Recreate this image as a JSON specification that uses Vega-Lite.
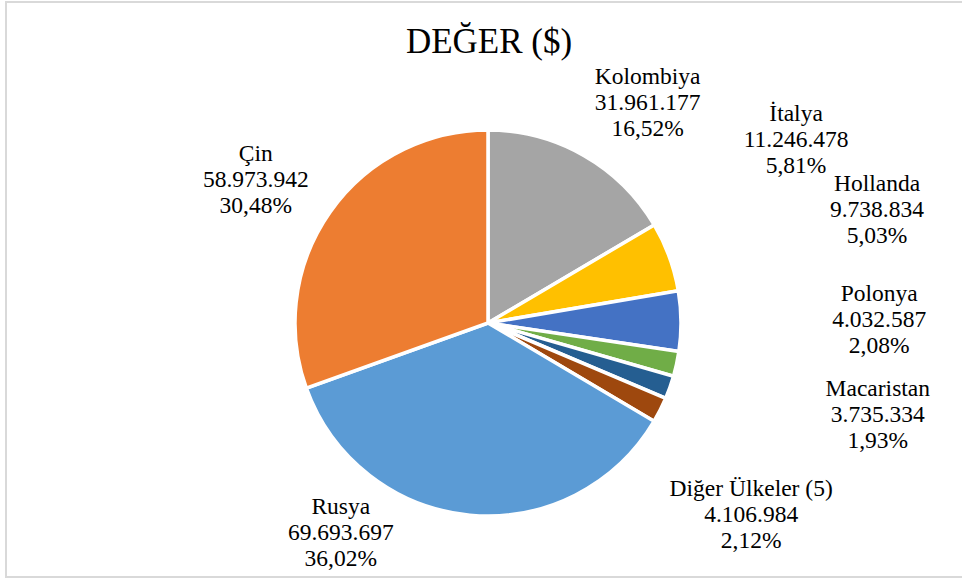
{
  "$schema": "https://vega.github.io/schema/vega-lite/v6.json",
  "autosize": {"type": "none"},
  "width": 958,
  "height": 575,
  "padding": {"left": 6, "top": 2, "right": -2, "bottom": 2},
  "background": "#ffffff",
  "view": {"stroke": "#D9D9D9", "strokeWidth": 2, "fill": "#ffffff"},
  "title": {
    "text": "DEĞER ($)",
    "font": "Liberation Serif",
    "fontSize": 35,
    "fontWeight": "normal",
    "color": "#000000",
    "anchor": "middle",
    "frame": "group",
    "baseline": "alphabetic",
    "offset": -86,
    "dx": 4
  },
  "config": {
    "locale": {
      "number": {
        "decimal": ",",
        "thousands": ".",
        "grouping": [3],
        "currency": ["", " $"],
        "percent": "%"
      }
    },
    "text": {
      "font": "Liberation Serif",
      "fontSize": 23.5,
      "lineHeight": 26,
      "lineBreak": "\n",
      "align": "center",
      "baseline": "middle",
      "color": "#000000",
      "radius": 213
    }
  },
  "data": {
    "values": [
      {"ulke": "Kolombiya", "deger": 31961177},
      {"ulke": "İtalya", "deger": 11246478},
      {"ulke": "Hollanda", "deger": 9738834},
      {"ulke": "Polonya", "deger": 4032587},
      {"ulke": "Macaristan", "deger": 3735334},
      {"ulke": "Diğer Ülkeler (5)", "deger": 4106984},
      {"ulke": "Rusya", "deger": 69693697},
      {"ulke": "Çin", "deger": 58973942}
    ]
  },
  "transform": [
    {"window": [{"op": "row_number", "as": "sira"}]},
    {"joinaggregate": [{"op": "sum", "field": "deger", "as": "toplam"}]},
    {"calculate": "datum.deger / datum.toplam", "as": "pay"},
    {"calculate": "datum.ulke + '\\n' + format(datum.deger, ',d') + '\\n' + format(datum.pay, '.2%')", "as": "etiket"},
    {"stack": "deger", "groupby": [], "sort": [{"field": "sira", "order": "ascending"}], "as": ["bas", "son"]},
    {"calculate": "(datum.bas + datum.son) / 2", "as": "orta"}
  ],
  "layer": [
    {
      "mark": {"type": "arc", "radius": 193, "stroke": "#ffffff", "strokeWidth": 3.5, "xOffset": 3, "yOffset": 33.5},
      "encoding": {
        "theta": {"field": "son", "type": "quantitative", "scale": {"zero": true, "nice": false}},
        "theta2": {"field": "bas"},
        "color": {
          "field": "ulke",
          "type": "nominal",
          "legend": null,
          "scale": {
            "domain": ["Kolombiya", "İtalya", "Hollanda", "Polonya", "Macaristan", "Diğer Ülkeler (5)", "Rusya", "Çin"],
            "range": ["#A5A5A5", "#FFC000", "#4472C4", "#70AD47", "#255E91", "#9E480E", "#5B9BD5", "#ED7D31"]
          }
        }
      }
    },
    {
      "transform": [{"filter": "datum.ulke === 'Kolombiya'"}],
      "mark": {"type": "text", "dx": 57, "dy": -27.5},
      "encoding": {"theta": {"field": "orta", "type": "quantitative"}, "text": {"field": "etiket"}}
    },
    {
      "transform": [{"filter": "datum.ulke === 'İtalya'"}],
      "mark": {"type": "text", "dx": 111, "dy": -102.5},
      "encoding": {"theta": {"field": "orta", "type": "quantitative"}, "text": {"field": "etiket"}}
    },
    {
      "transform": [{"filter": "datum.ulke === 'Hollanda'"}],
      "mark": {"type": "text", "dx": 179, "dy": -103.5},
      "encoding": {"theta": {"field": "orta", "type": "quantitative"}, "text": {"field": "etiket"}}
    },
    {
      "transform": [{"filter": "datum.ulke === 'Polonya'"}],
      "mark": {"type": "text", "dx": 186, "dy": -40.5},
      "encoding": {"theta": {"field": "orta", "type": "quantitative"}, "text": {"field": "etiket"}}
    },
    {
      "transform": [{"filter": "datum.ulke === 'Macaristan'"}],
      "mark": {"type": "text", "dx": 192, "dy": 28.5},
      "encoding": {"theta": {"field": "orta", "type": "quantitative"}, "text": {"field": "etiket"}}
    },
    {
      "transform": [{"filter": "datum.ulke === 'Diğer Ülkeler (5)'"}],
      "mark": {"type": "text", "dx": 76, "dy": 103.5},
      "encoding": {"theta": {"field": "orta", "type": "quantitative"}, "text": {"field": "etiket"}}
    },
    {
      "transform": [{"filter": "datum.ulke === 'Rusya'"}],
      "mark": {"type": "text", "dx": -124, "dy": 5.5},
      "encoding": {"theta": {"field": "orta", "type": "quantitative"}, "text": {"field": "etiket"}}
    },
    {
      "transform": [{"filter": "datum.ulke === 'Çin'"}],
      "mark": {"type": "text", "dx": -55, "dy": -12.5},
      "encoding": {"theta": {"field": "orta", "type": "quantitative"}, "text": {"field": "etiket"}}
    }
  ]
}
